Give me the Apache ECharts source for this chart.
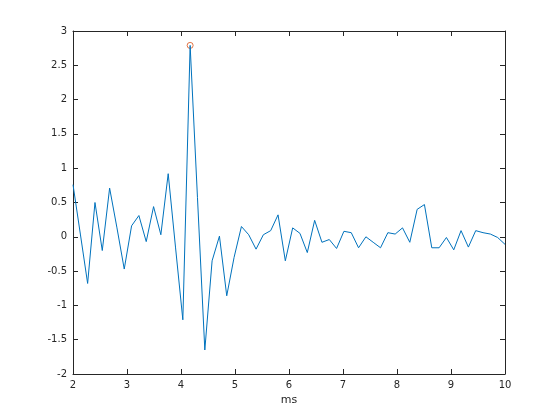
<!DOCTYPE html>
<html>
<head>
<meta charset="utf-8">
<script src="https://cdn.jsdelivr.net/npm/echarts@6/dist/echarts.min.js"></script>
<style>
  html, body { margin: 0; padding: 0; background: #fff; }
  #chart { width: 560px; height: 420px; }
</style>
</head>
<body>
<div id="chart"></div>
<script>
// sample times (ms)
const times = [
  2.000, 2.136, 2.271, 2.407, 2.542, 2.678, 2.814, 2.949, 3.085, 3.220,
  3.356, 3.492, 3.627, 3.763, 3.898, 4.034, 4.169, 4.305, 4.441, 4.576,
  4.712, 4.847, 4.983, 5.119, 5.254, 5.390, 5.525, 5.661, 5.797, 5.932,
  6.068, 6.203, 6.339, 6.475, 6.610, 6.746, 6.881, 7.017, 7.153, 7.288,
  7.424, 7.559, 7.695, 7.831, 7.966, 8.102, 8.237, 8.373, 8.508, 8.644,
  8.780, 8.915, 9.051, 9.186, 9.322, 9.458, 9.593, 9.729, 9.864, 10.000
]

// signal amplitude at each sample
const signal = [
  0.76, 0.04, -0.68, 0.50, -0.20, 0.71, 0.13, -0.47, 0.16, 0.31,
  -0.07, 0.44, 0.03, 0.92, -0.15, -1.21, 2.79, 0.57, -1.65, -0.35,
  0.01, -0.86, -0.30, 0.15, 0.03, -0.18, 0.03, 0.09, 0.32, -0.35,
  0.13, 0.05, -0.23, 0.24, -0.08, -0.04, -0.17, 0.08, 0.06, -0.16,
  0.00, -0.08, -0.16, 0.06, 0.04, 0.13, -0.08, 0.40, 0.47, -0.16,
  -0.16, -0.01, -0.19, 0.09, -0.15, 0.09, 0.06, 0.04, -0.01, -0.11
]

// detected peak
const peakTime = [4.169]
const peakValue = [2.79]

const AXIS_COLOR = '#262626'
const FONT = 'DejaVu Sans, Helvetica, Arial, sans-serif'

function baseAxis(showLabels) {
  return {
    axisLine: { show: true, onZero: false, lineStyle: { color: AXIS_COLOR, width: 1 } },
    axisTick: { show: true, inside: true, length: 5, lineStyle: { color: AXIS_COLOR, width: 1 } },
    axisLabel: { show: showLabels, color: AXIS_COLOR, fontSize: 10, fontFamily: FONT },
    splitLine: { show: false }
  }
}

const chart = echarts.init(document.getElementById('chart'))

chart.setOption({
  animation: false,
  backgroundColor: '#ffffff',
  grid: { left: 73, right: 55, top: 31, bottom: 46, containLabel: false },
  xAxis: [
    {
      type: 'value', position: 'bottom', min: 2, max: 10, interval: 1,
      name: 'ms', nameLocation: 'middle', nameGap: 19,
      nameTextStyle: { color: AXIS_COLOR, fontSize: 11, fontFamily: FONT },
      ...baseAxis(true),
      axisLabel: { ...baseAxis(true).axisLabel, margin: 6 }
    },
    { type: 'value', position: 'top', min: 2, max: 10, interval: 1, ...baseAxis(false) }
  ],
  yAxis: [
    {
      type: 'value', position: 'left', min: -2, max: 3, interval: 0.5,
      ...baseAxis(true),
      axisLabel: { ...baseAxis(true).axisLabel, margin: 6 }
    },
    { type: 'value', position: 'right', min: -2, max: 3, interval: 0.5, ...baseAxis(false) }
  ],
  series: [
    {
      type: 'line',
      data: times.map((t, i) => [t, signal[i]]),
      showSymbol: false,
      clip: true,
      lineStyle: { color: '#0072BD', width: 1 },
      itemStyle: { color: '#0072BD' }
    },
    {
      type: 'scatter',
      data: peakTime.map((t, i) => [t, peakValue[i]]),
      symbol: 'circle',
      symbolSize: 6,
      itemStyle: { color: 'rgba(0,0,0,0)', borderColor: '#D95319', borderWidth: 1 }
    }
  ]
})
</script>
</body>
</html>
